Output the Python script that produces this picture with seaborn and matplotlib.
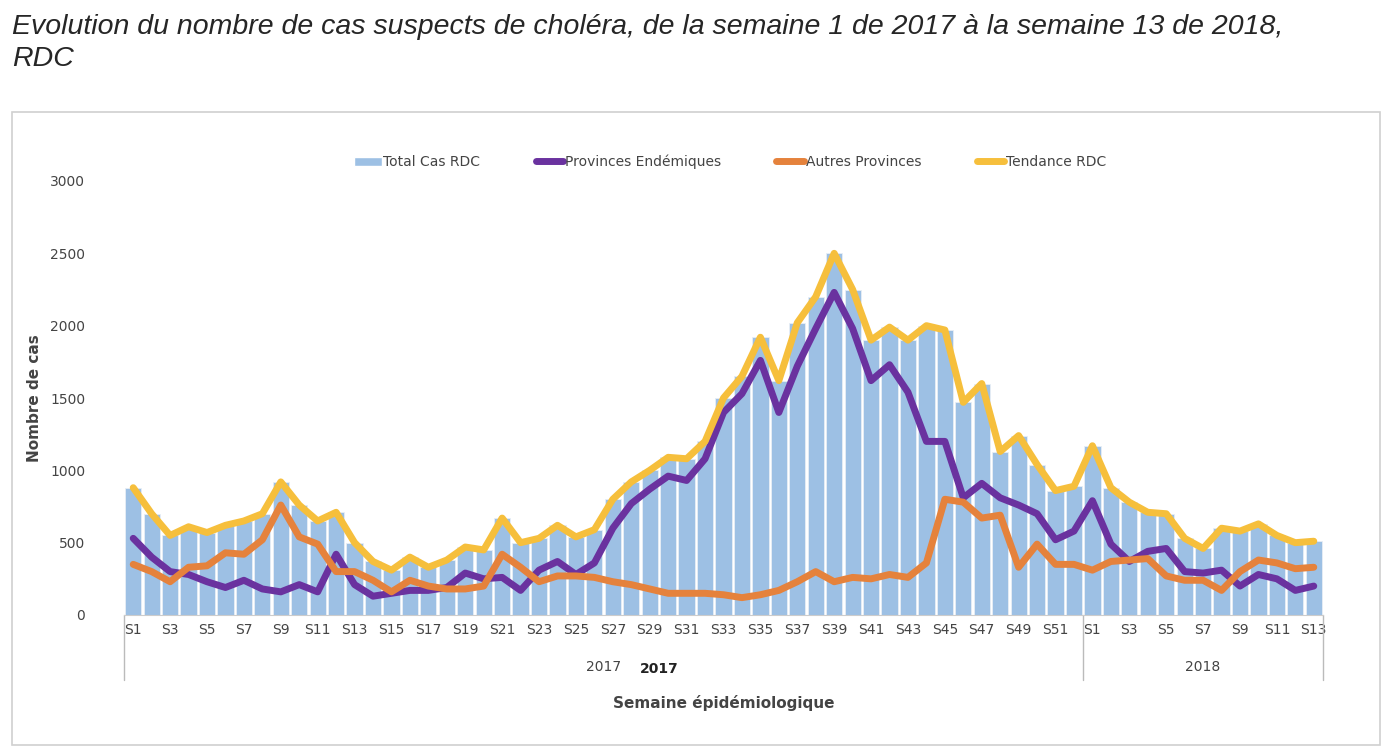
import numpy as np
import pandas as pd
import matplotlib
matplotlib.use("Agg")
import matplotlib.pyplot as plt
import seaborn as sns
from matplotlib.patches import Rectangle, Patch
from matplotlib.lines import Line2D

sns.set_style("white")

# Weekly suspected cholera cases, S1 2017 -> S13 2018
total = [880, 700, 550, 610, 570, 620, 650, 700, 920, 760, 650, 710, 500, 370, 310, 400,
         330, 380, 470, 450, 670, 500, 530, 620, 540, 590, 800, 920, 1000, 1090, 1080, 1200,
         1500, 1650, 1920, 1620, 2020, 2200, 2500, 2250, 1900, 1990, 1900, 2000, 1970, 1470,
         1600, 1130, 1240, 1040, 860, 890,
         1170, 880, 780, 710, 700, 530, 460, 600, 580, 630, 550, 500, 510]
endemic = [530, 400, 300, 280, 230, 190, 240, 180, 160, 210, 160, 420, 210, 130, 150, 170,
           170, 190, 290, 250, 260, 170, 310, 370, 280, 360, 600, 770, 870, 960, 930, 1080,
           1400, 1530, 1760, 1400, 1720, 1980, 2230, 1980, 1620, 1730, 1540, 1200, 1200, 810,
           910, 810, 760, 700, 520, 580,
           790, 490, 370, 440, 460, 300, 290, 310, 200, 280, 250, 170, 200]
autres = [350, 300, 230, 330, 340, 430, 420, 520, 760, 540, 490, 300, 300, 240, 160, 240,
          200, 180, 180, 200, 420, 330, 230, 270, 270, 260, 230, 210, 180, 150, 150, 150,
          140, 120, 140, 170, 230, 300, 230, 260, 250, 280, 260, 360, 800, 780, 670, 690,
          330, 490, 350, 350,
          310, 370, 380, 390, 270, 240, 240, 170, 300, 380, 360, 320, 330]

weeks = [f"S{i}" for i in range(1, 53)] + [f"S{i}" for i in range(1, 14)]
df = pd.DataFrame({"pos": np.arange(len(total)), "semaine": weeks, "total": total,
                   "endemic": endemic, "autres": autres})

BAR = "#9dc0e4"
PURPLE = "#6a329f"
ORANGE = "#e5823c"
YELLOW = "#f6bf3c"

fig = plt.figure(figsize=(13.94, 7.54), dpi=100)
fig.patches.append(Rectangle((12 / 1394, 9 / 754), 1368 / 1394, 633 / 754, transform=fig.transFigure,
                             fill=False, edgecolor="#d0d0d0", lw=1.2))
fig.text(12 / 1394, 1 - 14 / 754,
         "Evolution du nombre de cas suspects de choléra, de la semaine 1 de 2017 à la semaine 13 de 2018,\nRDC",
         family="Liberation Sans", style="italic", fontsize=20.5,
         va="top", ha="left", linespacing=1.3)

ax = fig.add_axes([124 / 1394, 139 / 754, 1199 / 1394, 434 / 754])
sns.barplot(data=df, x="pos", y="total", color=BAR, width=0.88, saturation=1,
            edgecolor="#e8eef5", linewidth=0.6, ax=ax)
sns.lineplot(data=df, x="pos", y="endemic", color=PURPLE, lw=5, ax=ax)
sns.lineplot(data=df, x="pos", y="autres", color=ORANGE, lw=5, ax=ax)
sns.lineplot(data=df, x="pos", y="total", color=YELLOW, lw=5, ax=ax)

ax.set_xlim(-0.5, len(df) - 0.5)
ax.set_ylim(0, 3000)
ax.set_yticks(range(0, 3001, 500))
ax.tick_params(axis="y", labelsize=10, colors="#444444", length=0, pad=28)
ticks = [i for i in range(len(df)) if int(weeks[i][1:]) % 2 == 1]
ax.set_xticks(ticks)
ax.set_xticklabels([weeks[i] for i in ticks], fontsize=10, color="#444444")
ax.tick_params(axis="x", length=0, pad=6)
for s in ["top", "right", "left"]:
    ax.spines[s].set_visible(False)
ax.spines["bottom"].set_color("#cccccc")
ax.set_xlabel("")
ax.set_ylabel("Nombre de cas", fontsize=11, fontweight="bold", color="#444444", labelpad=6)

# year group labels and separators
for x in [-0.5, 51.5, len(df) - 0.5]:
    ax.plot([x, x], [0, -450], color="#bbbbbb", lw=1, clip_on=False)
ax.text(25.5, -390, "2017", ha="center", fontsize=10, color="#444444")
ax.text(28.5, -400, "2017", ha="center", fontsize=10, color="#222222", fontweight="bold")
ax.text(58, -390, "2018", ha="center", fontsize=10, color="#444444")
ax.text(32, -640, "Semaine épidémiologique", ha="center", fontsize=11,
        fontweight="bold", color="#444444")

handles = [Patch(facecolor=BAR), Line2D([], [], color=PURPLE, lw=5),
           Line2D([], [], color=ORANGE, lw=5), Line2D([], [], color=YELLOW, lw=5)]
labels = ["Total Cas RDC", "Provinces Endémiques", "Autres Provinces", "Tendance RDC"]
fig.legend(handles, labels, loc="center", bbox_to_anchor=(730 / 1394, 1 - 162 / 754), ncol=4,
           frameon=False, fontsize=10, columnspacing=4, handlelength=2, handletextpad=0.1,
           labelcolor="#444444")

fig.savefig("out.png", dpi=100)
